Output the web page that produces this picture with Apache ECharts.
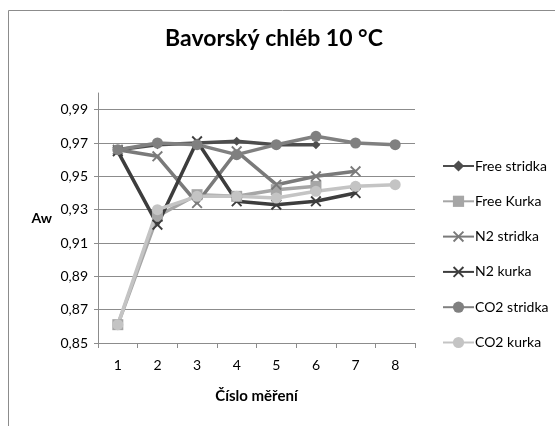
<!DOCTYPE html>
<html>
<head>
<meta charset="utf-8">
<script src="https://cdn.jsdelivr.net/npm/echarts@6/dist/echarts.min.js"></script>
<style>
html,body{margin:0;padding:0;background:#fff;}
#c{width:555px;height:426px;}
</style>
</head>
<body>
<div id="c"></div>
<script>
var categories = ['1','2','3','4','5','6','7','8'];
var freeStridka = [0.966, 0.969, 0.970, 0.971, 0.969, 0.969];
var freeKurka   = [0.861, 0.926, 0.939, 0.938, 0.942, 0.944];
var n2Stridka   = [0.966, 0.962, 0.934, 0.965, 0.945, 0.950, 0.953];
var n2Kurka     = [0.965, 0.921, 0.971, 0.935, 0.933, 0.935, 0.940];
var co2Stridka  = [0.966, 0.970, 0.969, 0.963, 0.969, 0.974, 0.970, 0.969];
var co2Kurka    = [0.861, 0.930, 0.938, 0.938, 0.937, 0.941, 0.944, 0.945];
var seriesNames = ['Free stridka','Free Kurka','N2 stridka','N2 kurka','CO2 stridka','CO2 kurka'];
var yTicks = {min: 0.85, max: 1.0, interval: 0.02};

var FONT = 'Lato, "Open Sans", sans-serif';
var X_PATH = 'path://M0,1.2L1.2,0L10,8.8L8.8,10Z M8.8,0L10,1.2L1.2,10L0,8.8Z';

function mk(name, data, color, symbol, size) {
  return {
    name: name, type: 'line', data: data,
    symbol: symbol, symbolSize: size,
    lineStyle: {color: color, width: 3.5},
    itemStyle: {color: color},
    emphasis: {disabled: true},
    animation: false
  };
}

var chart = echarts.init(document.getElementById('c'), null, {renderer: 'canvas'});
chart.setOption({
  backgroundColor: '#fff',
  animation: false,
  title: {
    text: 'Bavorský chléb 10 °C',
    left: 269, textAlign: 'center', top: 22,
    textStyle: {fontFamily: FONT, fontWeight: 'bold', fontSize: 23, color: '#000'}
  },
  graphic: [{
    type: 'rect', shape: {x: 8.5, y: 10.5, width: 600, height: 600},
    style: {fill: 'none', stroke: '#8c8c8c', lineWidth: 1}, silent: true, z: -10
  }],
  legend: {
    orient: 'vertical', left: 437, top: 154,
    itemWidth: 31, itemHeight: 14, itemGap: 21.3,
    data: seriesNames,
    textStyle: {fontFamily: FONT, fontSize: 14, color: '#000', padding: [0,0,0,-4]}
  },
  grid: {left: 98, right: 140, top: 93, bottom: 83, containLabel: false},
  xAxis: {
    type: 'category', data: categories, boundaryGap: true,
    name: 'Číslo měření', nameLocation: 'middle', nameGap: 46,
    nameTextStyle: {fontFamily: FONT, fontWeight: 'bold', fontSize: 15, color: '#000'},
    axisLine: {lineStyle: {color: '#8c8c8c', width: 1}},
    axisTick: {show: true, length: 5, lineStyle: {color: '#8c8c8c'}},
    axisLabel: {fontFamily: FONT, fontSize: 14, color: '#000', margin: 15},
    splitLine: {show: false}
  },
  yAxis: {
    type: 'value', min: yTicks.min, max: yTicks.max, interval: yTicks.interval,
    name: 'Aw', nameLocation: 'middle', nameRotate: 0, nameGap: 46,
    nameTextStyle: {fontFamily: FONT, fontWeight: 'bold', fontSize: 14, color: '#000'},
    axisLine: {show: true, lineStyle: {color: '#8c8c8c', width: 1}},
    axisTick: {show: true, length: 4, lineStyle: {color: '#8c8c8c'}},
    axisLabel: {
      fontFamily: FONT, fontSize: 14, color: '#000', margin: 10,
      showMaxLabel: false,
      formatter: function (v) { return v.toFixed(2).replace('.', ','); }
    },
    splitLine: {show: true, showMaxLine: false, lineStyle: {color: '#8c8c8c', width: 1}}
  },
  series: [
    mk(seriesNames[0], freeStridka, '#4d4d4d', 'diamond', 9),
    mk(seriesNames[1], freeKurka, '#a6a6a6', 'rect', 11),
    mk(seriesNames[2], n2Stridka, '#7a7a7a', X_PATH, 11),
    mk(seriesNames[3], n2Kurka, '#3d3d3d', X_PATH, 11),
    mk(seriesNames[4], co2Stridka, '#808080', 'circle', 11),
    mk(seriesNames[5], co2Kurka, '#c4c4c4', 'circle', 11)
  ]
});
</script>
</body>
</html>
